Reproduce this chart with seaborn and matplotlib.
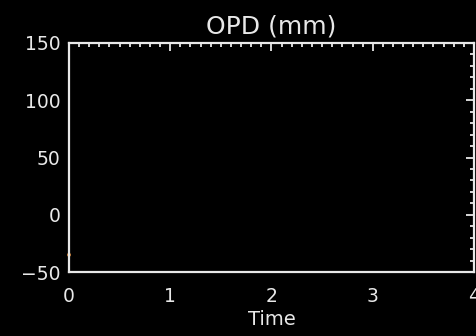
import numpy as np
import pandas as pd
import matplotlib
matplotlib.use("Agg")
import matplotlib.pyplot as plt
import seaborn as sns
from matplotlib.ticker import MultipleLocator

# -------------------
# DATA
# -------------------
time_vals = [0.0]
opd_vals = [-35.0]
x_ticks = [0, 1, 2, 3, 4]
y_ticks = [-50, 0, 50, 100, 150]

df = pd.DataFrame({"Time": time_vals, "OPD": opd_vals})

# -------------------
# STYLE
# -------------------
sns.set_style("dark", {"axes.facecolor": "black", "figure.facecolor": "black"})
plt.rcParams['font.family'] = ['DejaVu Sans']
fg = "#e8e8e8"

fig = plt.figure(figsize=(4.77, 3.36), dpi=100)
ax = fig.add_axes([69 / 477, 1 - 272 / 336, (474 - 69) / 477, (272 - 43) / 336])
ax.set_facecolor("black")

# one faint point near the start of the trace
sns.scatterplot(data=df, x="Time", y="OPD", ax=ax, color="#c87a30", s=8,
                edgecolor="none", legend=False, clip_on=False)

ax.set_xlim(0, 4)
ax.set_ylim(-50, 150)
ax.set_xticks(x_ticks)
ax.set_yticks(y_ticks)
ax.xaxis.set_minor_locator(MultipleLocator(0.1))
ax.yaxis.set_minor_locator(MultipleLocator(10))

for sp in ax.spines.values():
    sp.set_color(fg)
    sp.set_linewidth(1.6)

ax.tick_params(which="both", direction="in", colors=fg, top=True, right=True,
               labelsize=13.5, width=1.3)
ax.tick_params(which="major", length=6)
ax.tick_params(which="minor", length=3)
ax.tick_params(axis="x", which="major", pad=11)
ax.tick_params(axis="y", which="major", pad=6)

ax.set_title("OPD (mm)", color=fg, fontsize=18, pad=7)
ax.set_xlabel("Time", color=fg, fontsize=14, labelpad=3)
ax.set_ylabel("")
ax.grid(False)

fig.savefig("out.png", dpi=100, facecolor="black")
